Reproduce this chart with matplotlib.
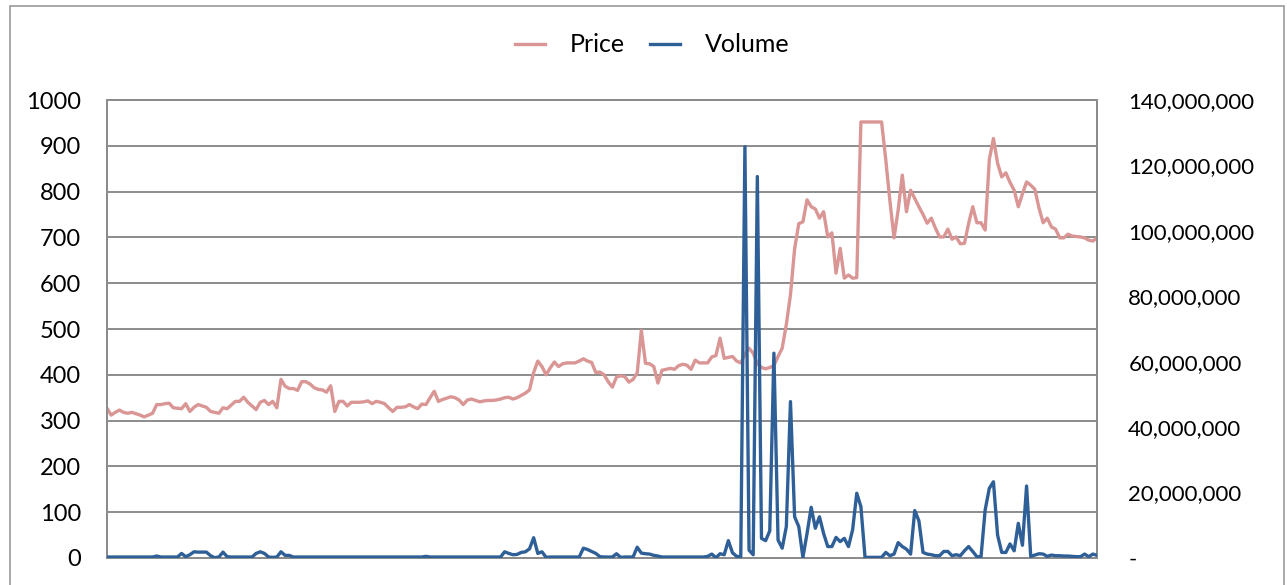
import matplotlib
matplotlib.use("Agg")
import matplotlib.pyplot as plt
from matplotlib.patches import Rectangle
from matplotlib.ticker import FuncFormatter, MultipleLocator

# daily closing price (left axis)
price = [
    327, 312, 318, 323, 318, 316, 318, 315, 312, 308,
    312, 316, 335, 335, 337, 338, 328, 327, 326, 337,
    320, 329, 335, 332, 329, 320, 318, 316, 328, 326,
    334, 342, 342, 351, 340, 332, 324, 340, 344, 335,
    342, 328, 390, 375, 370, 370, 366, 385, 385, 380,
    372, 368, 367, 362, 376, 320, 342, 342, 332, 340,
    340, 340, 341, 343, 337, 342, 340, 337, 328, 320,
    329, 329, 330, 335, 330, 326, 336, 335, 350, 364,
    342, 346, 349, 352, 350, 345, 335, 345, 347, 344,
    341, 343, 344, 344, 345, 347, 350, 351, 347, 350,
    355, 360, 367, 405, 430, 418, 400, 415, 428, 418,
    424, 426, 426, 426, 430, 435, 430, 427, 405, 406,
    400, 385, 373, 395, 398, 396, 384, 390, 404, 497,
    425, 424, 418, 382, 410, 412, 414, 412, 420, 423,
    421, 412, 432, 426, 426, 426, 439, 442, 480, 436,
    438, 440, 430, 426, 445, 458, 447, 424, 416, 413,
    416, 420, 440, 458, 510, 575, 675, 730, 734, 782,
    767, 762, 742, 756, 701, 710, 622, 676, 611, 618,
    611, 612, 952, 952, 952, 952, 952, 952, 870, 780,
    699, 760, 836, 756, 803, 785, 767, 750, 731, 742,
    720, 701, 701, 718, 696, 701, 686, 687, 730, 767,
    732, 732, 716, 870, 916, 862, 832, 841, 820, 803,
    767, 795, 821, 814, 805, 764, 732, 742, 723, 718,
    699, 699, 707, 703, 702, 701, 699, 694, 692, 699,
]

# daily traded volume in millions of shares (right axis)
volume_m = [
    0.3, 0.3, 0.3, 0.3, 0.3, 0.3, 0.3, 0.3, 0.3, 0.3,
    0.3, 0.3, 0.6, 0.3, 0.3, 0.3, 0.3, 0.3, 1.4, 0.4,
    1.0, 1.9, 1.8, 1.8, 1.8, 0.7, 0.1, 0.3, 1.8, 0.4,
    0.3, 0.3, 0.3, 0.3, 0.3, 0.3, 1.4, 1.9, 1.4, 0.3,
    0.2, 0.3, 1.9, 0.8, 0.8, 0.3, 0.3, 0.3, 0.3, 0.3,
    0.3, 0.3, 0.3, 0.3, 0.3, 0.3, 0.3, 0.3, 0.3, 0.3,
    0.3, 0.3, 0.3, 0.3, 0.3, 0.3, 0.3, 0.3, 0.3, 0.3,
    0.3, 0.3, 0.3, 0.3, 0.3, 0.3, 0.3, 0.5, 0.3, 0.3,
    0.3, 0.3, 0.3, 0.3, 0.3, 0.3, 0.3, 0.3, 0.3, 0.3,
    0.3, 0.3, 0.3, 0.3, 0.3, 0.3, 1.9, 1.4, 1.0, 1.1,
    1.7, 1.9, 2.8, 6.2, 1.4, 1.9, 0.2, 0.3, 0.3, 0.3,
    0.3, 0.3, 0.3, 0.3, 0.3, 3.0, 2.6, 2.0, 1.4, 0.4,
    0.3, 0.3, 0.3, 1.3, 0.2, 0.3, 0.3, 0.3, 3.3, 1.5,
    1.3, 1.2, 0.8, 0.6, 0.3, 0.3, 0.3, 0.3, 0.3, 0.3,
    0.3, 0.3, 0.3, 0.3, 0.3, 0.5, 1.2, 0.1, 1.3, 1.0,
    5.3, 1.6, 0.5, 0.4, 125.7, 2.4, 1.0, 116.6, 6.0, 5.3,
    8.3, 62.6, 5.5, 3.0, 9.6, 47.8, 12.6, 9.6, 0.2, 7.5,
    15.5, 9.1, 12.6, 7.5, 3.5, 3.5, 6.3, 5.0, 6.0, 3.5,
    8.6, 19.8, 15.7, 0.2, 0.2, 0.2, 0.2, 0.2, 1.7, 0.7,
    1.2, 4.7, 3.5, 2.7, 1.2, 14.5, 11.4, 1.7, 1.2, 1.0,
    0.7, 0.7, 2.0, 2.0, 0.7, 1.0, 0.7, 2.2, 3.5, 2.0,
    0.4, 0.4, 14.7, 21.3, 23.3, 7.0, 1.7, 1.7, 4.3, 2.2,
    10.6, 3.9, 22.0, 0.5, 0.9, 1.3, 1.2, 0.5, 0.9, 0.7,
    0.7, 0.6, 0.6, 0.5, 0.4, 0.4, 1.2, 0.4, 1.2, 0.8,
]

volume = [v * 1e6 for v in volume_m]
days = list(range(len(price)))

price_color = "#D99694"
volume_color = "#2F5F97"
grid_color = "#8C8C8C"

plt.rcParams["font.family"] = ["Lato", "DejaVu Sans"]

fig = plt.figure(figsize=(12.87, 5.85), dpi=100)
ax = fig.add_axes([107 / 1287, 27 / 585, 990 / 1287, 458 / 585])
ax2 = ax.twinx()

ln1, = ax.plot(days, price, color=price_color, lw=2.4, label="Price",
               solid_joinstyle="round", zorder=3)
ln2, = ax2.plot(days, volume, color=volume_color, lw=2.4, label="Volume",
                solid_joinstyle="round", zorder=3)

ax.set_xlim(0, len(price) - 1)
ax.set_ylim(0, 1000)
ax.yaxis.set_major_locator(MultipleLocator(100))
ax2.set_ylim(0, 140e6)
ax2.yaxis.set_major_locator(MultipleLocator(20e6))
ax2.yaxis.set_major_formatter(
    FuncFormatter(lambda v, _: "-" if v == 0 else f"{int(v):,}"))

ax.set_xticks([])
ax.grid(axis="y", color=grid_color, lw=1.4)
ax.set_axisbelow(True)
ax.tick_params(axis="y", length=0, pad=18.5, labelsize=17, colors="black")
ax2.tick_params(axis="y", length=0, pad=22.5, labelsize=16, colors="black")

for a in (ax, ax2):
    for s in a.spines.values():
        s.set_color(grid_color)
        s.set_linewidth(1.4)

# outer chart border
fig.patches.append(Rectangle((10 / 1287, -0.1), 1274 / 1287, 1.1 - 6 / 585,
                             transform=fig.transFigure, fill=False,
                             edgecolor="#999999", lw=1.2))

fig.legend([ln1, ln2], ["Price", "Volume"], loc="center",
           bbox_to_anchor=(652 / 1287, 1 - 45 / 585), ncol=2, frameon=False,
           fontsize=18, handlelength=1.2, handletextpad=1.0, columnspacing=1.0)

fig.savefig("out.png", dpi=100)
